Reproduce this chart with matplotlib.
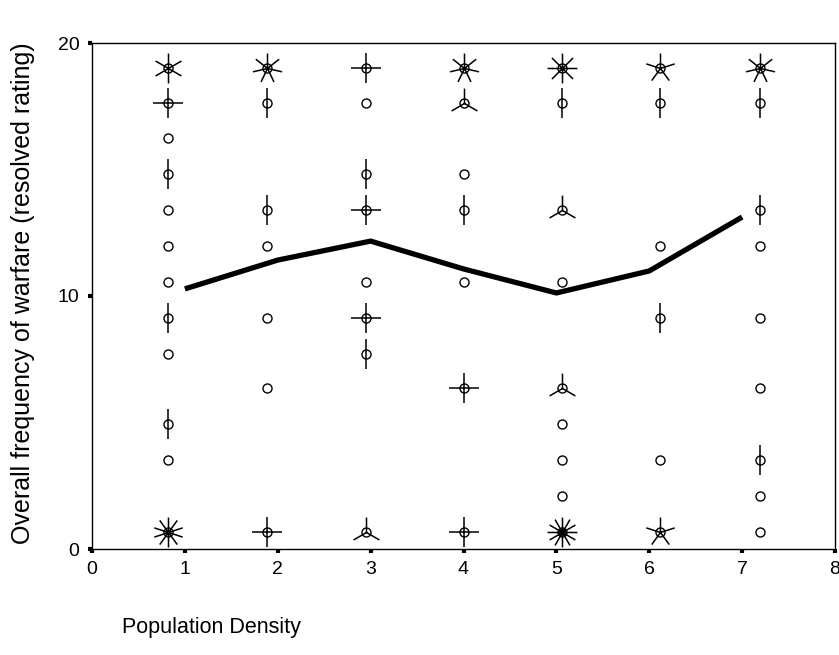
import numpy as np
import matplotlib
matplotlib.use("Agg")
import matplotlib.pyplot as plt
from matplotlib.path import Path

plt.rcParams["font.family"] = ["Liberation Sans", "DejaVu Sans"]

# column positions (population density groups, as plotted)
density_x = [0.82, 1.88, 2.95, 4.01, 5.06, 6.12, 7.19]
# rating levels, bottom to top
rating_levels = [0.67, 2.09, 3.52, 4.94, 6.36, 7.71, 9.13,
                 10.55, 11.98, 13.40, 14.82, 16.25, 17.63, 19.01]
# number of cases per (column, level) -> petals of each sunflower
counts = [
    [10, 0, 1, 2, 0, 1, 2, 1, 1, 1, 2, 1, 4, 6],
    [4, 0, 0, 0, 1, 0, 1, 0, 1, 2, 0, 0, 2, 7],
    [3, 0, 0, 0, 0, 2, 4, 1, 0, 4, 2, 0, 1, 4],
    [4, 0, 0, 0, 4, 0, 0, 1, 0, 2, 1, 0, 3, 7],
    [12, 1, 1, 1, 3, 0, 0, 1, 0, 3, 0, 0, 2, 8],
    [5, 0, 1, 0, 0, 0, 2, 0, 1, 0, 0, 0, 2, 5],
    [1, 1, 2, 0, 1, 0, 1, 0, 1, 2, 0, 0, 2, 7],
]
# fitted / mean line
line_x = [1, 2, 3, 4, 5, 6, 7]
line_y = [10.28, 11.42, 12.17, 11.07, 10.12, 10.99, 13.12]


def petal_marker(n):
    """Path with n unit petals, first one pointing up."""
    verts, codes = [], []
    for k in range(n):
        a = np.pi / 2 - 2 * np.pi * k / n
        verts += [(0.0, 0.0), (np.cos(a), np.sin(a))]
        codes += [Path.MOVETO, Path.LINETO]
    return Path(verts, codes)


fig = plt.figure(figsize=(8.39, 6.55), dpi=100)
ax = fig.add_axes([92 / 839, 1 - 549 / 655, 743 / 839, 506 / 655])

for xi, col in zip(density_x, counts):
    for yi, n in zip(rating_levels, col):
        if n == 0:
            continue
        ax.plot(xi, yi, "o", ms=6.5, mfc="white", mec="black", mew=1.0)
        if n >= 2:
            ax.plot(xi, yi, marker=petal_marker(n), ms=21.5, mfc="none",
                    mec="black", mew=1.1, ls="none")

ax.plot(line_x, line_y, color="black", lw=3.8, solid_capstyle="butt")

ax.set_xlim(0, 8)
ax.set_ylim(0, 20)
ax.set_xticks(range(0, 9))
ax.set_yticks([0, 10, 20])
ax.tick_params(direction="out", length=3, width=3, labelsize=14, pad=6)
for s in ax.spines.values():
    s.set_linewidth(1.0)

fig.text(122 / 839, 1 - 628 / 655, "Population Density", fontsize=15.5,
         ha="left", va="center")
fig.text(23 / 839, 1 - 293 / 655, "Overall frequency of warfare (resolved rating)",
         fontsize=18, rotation=90, ha="center", va="center")

fig.savefig("out.png", dpi=100)
